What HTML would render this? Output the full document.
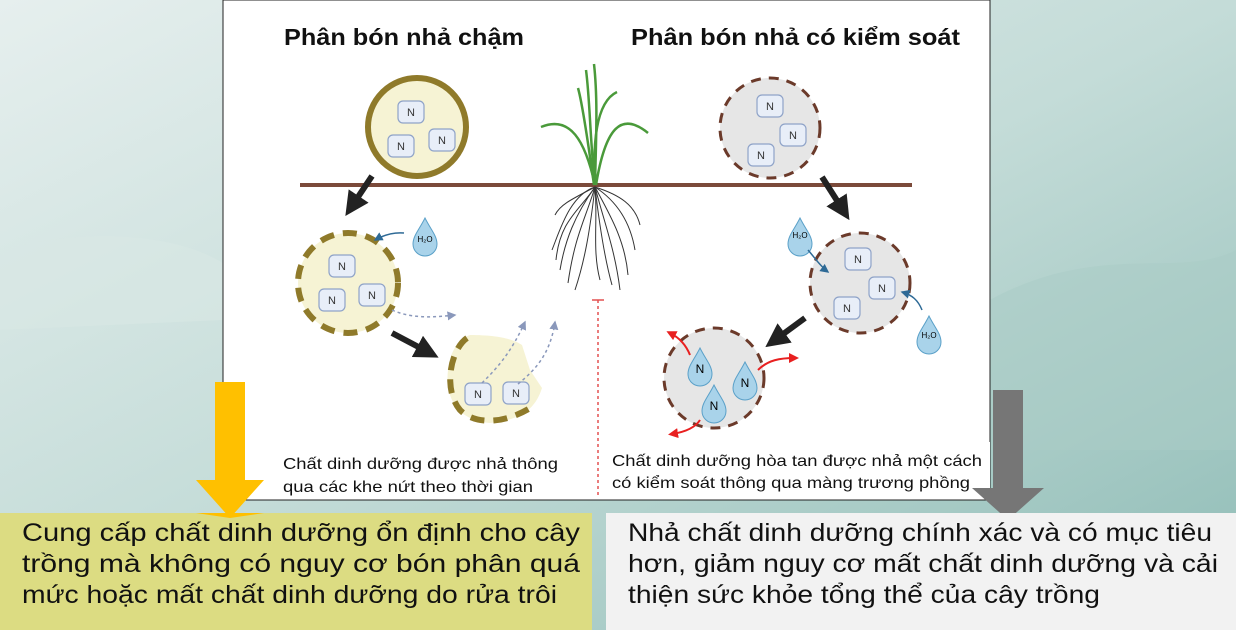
<!DOCTYPE html>
<html><head><meta charset="utf-8"><style>
body{margin:0;width:1236px;height:630px;overflow:hidden;font-family:"Liberation Sans",sans-serif;}
</style></head><body>
<svg width="1236" height="630" xmlns="http://www.w3.org/2000/svg" font-family="Liberation Sans, sans-serif">
<defs>
<linearGradient id="bg" x1="0" y1="0" x2="1" y2="1">
<stop offset="0" stop-color="#e6efee"/><stop offset="0.5" stop-color="#c4dcd8"/><stop offset="1" stop-color="#8fbcb6"/>
</linearGradient>
<marker id="blk" markerWidth="4" markerHeight="4" refX="2" refY="2" orient="auto"><path d="M0,0 L4,2 L0,4z" fill="#222"/></marker>
<marker id="blu" markerWidth="6" markerHeight="6" refX="5" refY="3" orient="auto"><path d="M0,0 L6,3 L0,6z" fill="#2e6a96"/></marker>
<marker id="gry" markerWidth="6" markerHeight="6" refX="5" refY="3" orient="auto"><path d="M0,0 L6,3 L0,6z" fill="#8a98bb"/></marker>
<marker id="red" markerWidth="5" markerHeight="5" refX="3" refY="2.5" orient="auto"><path d="M0,0 L5,2.5 L0,5z" fill="#e82020"/></marker>
<g id="nb"><rect x="-13" y="-11" width="26" height="22" rx="5" fill="#e8eef8" stroke="#8fa3c8" stroke-width="1.2"/><text y="4" font-size="11" text-anchor="middle" fill="#333">N</text></g>
<g id="drop"><path d="M0,-20 C6,-8 12,-2 12,6 A12,12 0 0 1 -12,6 C-12,-2 -6,-8 0,-20z" fill="#a9d3ea" stroke="#5aa0c8" stroke-width="1"/></g>
</defs>
<rect width="1236" height="630" fill="url(#bg)"/>
<path d="M0,250 C200,200 300,300 223,320 L0,330z" fill="#d8e7e5" opacity="0.6"/>
<path d="M990,300 C1100,240 1180,280 1236,250 L1236,450 L990,450z" fill="#a9cbc6" opacity="0.5"/>
<rect x="223" y="0" width="767" height="500" fill="#fff" stroke="#222" stroke-width="1"/>
<text x="284" y="45" font-size="23" font-weight="bold" fill="#111" textLength="240" lengthAdjust="spacingAndGlyphs">Phân bón nhả chậm</text>
<text x="631" y="45" font-size="23" font-weight="bold" fill="#111" textLength="329" lengthAdjust="spacingAndGlyphs">Phân bón nhả có kiểm soát</text>
<line x1="300" y1="185" x2="912" y2="185" stroke="#7b4a3a" stroke-width="4"/>
<!-- plant -->
<g stroke="#4a9a3a" stroke-width="2.5" fill="none">
<path d="M595,185 C585,140 570,115 541,127"/><path d="M595,185 C592,130 600,100 617,92"/><path d="M594,185 C585,120 580,95 578,88"/><path d="M596,185 C605,130 620,110 648,133"/><path d="M595,185 C596,140 598,100 594,64"/><path d="M595,185 C590,140 590,100 586,70"/>
</g>
<g stroke="#333" stroke-width="1" fill="none">
<path d="M595,187 C580,210 560,220 556,260"/><path d="M595,187 C590,230 585,260 575,290"/><path d="M595,187 C600,230 605,260 612,285"/><path d="M595,187 C615,200 630,220 635,250"/><path d="M595,187 C570,200 560,205 555,215"/><path d="M595,187 C598,220 592,250 600,280"/>
<path d="M595,187 C575,215 565,240 560,270"/><path d="M595,187 C610,215 625,240 628,275"/><path d="M595,187 C620,195 635,205 640,225"/><path d="M595,187 C585,220 575,235 568,283"/><path d="M595,187 C605,225 615,250 620,290"/><path d="M595,187 C570,195 560,230 552,250"/>
</g>
<line x1="598" y1="300" x2="598" y2="498" stroke="#e35050" stroke-width="1.5" stroke-dasharray="3,3"/>
<line x1="592" y1="300" x2="604" y2="300" stroke="#e35050" stroke-width="1.5"/>
<!-- left circles -->
<circle cx="417" cy="127" r="49" fill="#f6f3d4" stroke="#8f7a2a" stroke-width="6"/>
<use href="#nb" x="411" y="112"/><use href="#nb" x="401" y="146"/><use href="#nb" x="442" y="140"/>
<line x1="372" y1="176" x2="352" y2="206" stroke="#222" stroke-width="6" marker-end="url(#blk)"/>
<circle cx="348" cy="283" r="50" fill="#f6f3d4" stroke="#8f7a2a" stroke-width="6" stroke-dasharray="14,9"/>
<use href="#nb" x="342" y="266"/><use href="#nb" x="332" y="300"/><use href="#nb" x="372" y="295"/>
<use href="#drop" x="425" y="238"/><text x="425" y="242" font-size="8" text-anchor="middle">H₂O</text>
<path d="M404,233 C392,232 382,236 375,240" stroke="#2e6a96" stroke-width="1.5" fill="none" marker-end="url(#blu)"/>
<path d="M392,310 C410,318 430,318 455,315" stroke="#8a98bb" stroke-width="1.5" stroke-dasharray="3,3" fill="none" marker-end="url(#gry)"/>
<line x1="392" y1="333" x2="428" y2="352" stroke="#222" stroke-width="6" marker-end="url(#blk)"/>
<path d="M470,335 C500,335 515,340 522,345 L530,370 L542,388 C535,410 520,420 490,423 C455,420 445,395 448,370 C450,350 460,338 470,335z" fill="#f6f3d4"/>
<path d="M467,338 C450,350 443,390 460,410 C475,425 505,425 535,405" stroke="#8f7a2a" stroke-width="6" stroke-dasharray="14,9" fill="none"/>
<use href="#nb" x="478" y="394"/><use href="#nb" x="516" y="393"/>
<path d="M482,383 C495,370 510,355 525,322" stroke="#8a98bb" stroke-width="1.5" stroke-dasharray="3,3" fill="none" marker-end="url(#gry)"/>
<path d="M518,384 C535,370 550,355 555,322" stroke="#8a98bb" stroke-width="1.5" stroke-dasharray="3,3" fill="none" marker-end="url(#gry)"/>
<!-- right circles -->
<circle cx="770" cy="128" r="50" fill="#e6e6e6" stroke="#6b3a2a" stroke-width="3" stroke-dasharray="10,8"/>
<use href="#nb" x="770" y="106"/><use href="#nb" x="793" y="135"/><use href="#nb" x="761" y="155"/>
<line x1="822" y1="177" x2="843" y2="210" stroke="#222" stroke-width="6" marker-end="url(#blk)"/>
<circle cx="860" cy="283" r="50" fill="#e6e6e6" stroke="#6b3a2a" stroke-width="3" stroke-dasharray="10,8"/>
<use href="#nb" x="858" y="259"/><use href="#nb" x="882" y="288"/><use href="#nb" x="847" y="308"/>
<use href="#drop" x="800" y="238"/><text x="800" y="238" font-size="8" text-anchor="middle">H₂O</text>
<path d="M808,250 C815,258 820,266 828,272" stroke="#2e6a96" stroke-width="1.5" fill="none" marker-end="url(#blu)"/>
<use href="#drop" x="929" y="336"/><text x="929" y="338" font-size="8" text-anchor="middle">H₂O</text>
<path d="M922,310 C918,300 912,295 902,292" stroke="#2e6a96" stroke-width="1.5" fill="none" marker-end="url(#blu)"/>
<line x1="805" y1="318" x2="775" y2="340" stroke="#222" stroke-width="6" marker-end="url(#blk)"/>
<circle cx="714" cy="378" r="50" fill="#e6e6e6" stroke="#6b3a2a" stroke-width="3" stroke-dasharray="10,8"/>
<use href="#drop" x="700" y="368"/><text x="700" y="373" font-size="12" text-anchor="middle">N</text>
<use href="#drop" x="745" y="382"/><text x="745" y="387" font-size="12" text-anchor="middle">N</text>
<use href="#drop" x="714" y="405"/><text x="714" y="410" font-size="12" text-anchor="middle">N</text>
<path d="M690,355 C686,345 680,338 670,333" stroke="#e82020" stroke-width="2" fill="none" marker-end="url(#red)"/>
<path d="M758,370 C768,360 780,358 795,358" stroke="#e82020" stroke-width="2" fill="none" marker-end="url(#red)"/>
<path d="M700,420 C695,428 685,432 672,434" stroke="#e82020" stroke-width="2" fill="none" marker-end="url(#red)"/>
<!-- captions -->
<rect x="275" y="442" width="320" height="57" fill="#fff"/>
<text x="283" y="469" font-size="16" fill="#111" textLength="275" lengthAdjust="spacingAndGlyphs">Chất dinh dưỡng được nhả thông</text>
<text x="283" y="492" font-size="16" fill="#111" textLength="250" lengthAdjust="spacingAndGlyphs">qua các khe nứt theo thời gian</text>
<rect x="605" y="442" width="385" height="57" fill="#fff"/>
<text x="612" y="466" font-size="16" fill="#111" textLength="370" lengthAdjust="spacingAndGlyphs">Chất dinh dưỡng hòa tan được nhả một cách</text>
<text x="612" y="488" font-size="16" fill="#111" textLength="358" lengthAdjust="spacingAndGlyphs">có kiểm soát thông qua màng trương phồng</text>
<!-- big arrows -->
<rect x="215" y="382" width="30" height="100" fill="#ffc000"/>
<path d="M196,480 L264,480 L230,518z" fill="#ffc000"/>
<rect x="993" y="390" width="30" height="100" fill="#767676"/>
<path d="M972,488 L1044,488 L1008,520z" fill="#767676"/>
<!-- bottom boxes -->
<rect x="0" y="513" width="592" height="117" fill="#dcdc82"/>
<rect x="606" y="513" width="630" height="117" fill="#f2f2f2"/>
<path d="M196,513 L264,513 L230,518z" fill="#ffc000"/>
<g font-size="25" fill="#111" lengthAdjust="spacingAndGlyphs">
<text x="22" y="541" textLength="558" lengthAdjust="spacingAndGlyphs">Cung cấp chất dinh dưỡng ổn định cho cây</text>
<text x="22" y="572" textLength="558" lengthAdjust="spacingAndGlyphs">trồng mà không có nguy cơ bón phân quá</text>
<text x="22" y="603" textLength="535" lengthAdjust="spacingAndGlyphs">mức hoặc mất chất dinh dưỡng do rửa trôi</text>
<text x="628" y="541" textLength="584" lengthAdjust="spacingAndGlyphs">Nhả chất dinh dưỡng chính xác và có mục tiêu</text>
<text x="628" y="572" textLength="590" lengthAdjust="spacingAndGlyphs">hơn, giảm nguy cơ mất chất dinh dưỡng và cải</text>
<text x="628" y="603" textLength="472" lengthAdjust="spacingAndGlyphs">thiện sức khỏe tổng thể của cây trồng</text>
</g>
</svg>
</body></html>
